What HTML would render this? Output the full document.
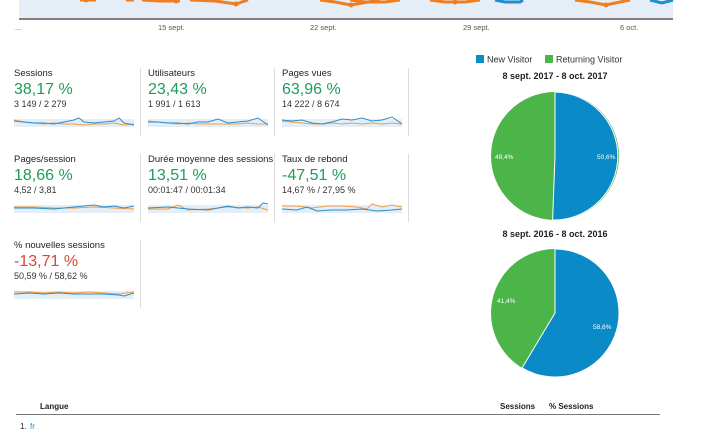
<!DOCTYPE html>
<html><head><meta charset="utf-8"><style>
html,body{margin:0;padding:0;background:#fff;width:702px;height:432px;overflow:hidden;font-family:"Liberation Sans",sans-serif;color:#222}
.a{position:absolute}
.t{font-size:9.5px;color:#222;line-height:12px;white-space:nowrap}
.v{font-size:16px;color:#1e9c5a;line-height:19px}
.r{color:#d9453b}
.s{font-size:9px;color:#333;line-height:11px}
.d{position:absolute;width:1px;background:#ddd}
</style></head><body>
<svg class="a" style="left:0;top:0" width="702" height="432">
<rect x="19" y="0" width="654" height="18" fill="#e5edf7"/>
<line x1="19" y1="19" x2="673" y2="19" stroke="#555" stroke-width="1.5"/>
<g stroke="#f07d20" stroke-width="3" fill="none">
<polyline points="80,0 96,0"/><polyline points="126,0 134,0"/><polyline points="142,0 160,1 180,1"/><polyline points="190,0 215,1 236,4 248,0"/>
<polyline points="320,0 335,2 351,5 368,2 380,0"/><polyline points="350,0 365,2 385,2 400,0"/><polyline points="430,0 445,2 465,2 480,0"/>
<polyline points="575,0 590,2 606,5 620,2 630,0"/>
</g>
<polyline points="495,0 505,2 520,2 523,0" stroke="#1b8fd0" stroke-width="3" fill="none"/>
<polyline points="650,0 662,3 673,0" stroke="#1b8fd0" stroke-width="3" fill="none"/>
<g fill="#f07d20"><circle cx="86" cy="0" r="2.5"/><circle cx="176" cy="1" r="2.5"/><circle cx="236" cy="4" r="2.5"/><circle cx="351" cy="5" r="2.5"/><circle cx="455" cy="2" r="2.5"/><circle cx="606" cy="5" r="2.5"/></g>
<g font-size="7.5" fill="#555" font-family="Liberation Sans"><text x="15" y="30">...</text><text x="158" y="30">15 sept.</text><text x="310" y="30">22 sept.</text><text x="463" y="30">29 sept.</text><text x="620" y="30">6 oct.</text></g>
<rect x="476" y="55" width="8" height="8" fill="#0a8ac7"/><text x="487" y="62.5" font-size="9" fill="#333">New Visitor</text>
<rect x="545" y="55" width="8" height="8" fill="#4cb54a"/><text x="556" y="62.5" font-size="9" fill="#333">Returning Visitor</text>
<text x="555" y="79" font-size="9" font-weight="bold" text-anchor="middle" fill="#222">8 sept. 2017 - 8 oct. 2017</text>
<circle cx="555" cy="156" r="64" fill="#4cb54a"/>
<path d="M555,156 L555,92 A64,64 0 1 1 552.6,220 Z" fill="#0a8ac7" stroke="#fff" stroke-width="1"/>
<text x="597" y="159" font-size="6.5" fill="#fff">50,6%</text><text x="495" y="159" font-size="6.5" fill="#fff">49,4%</text>
<text x="555" y="237" font-size="9" font-weight="bold" text-anchor="middle" fill="#222">8 sept. 2016 - 8 oct. 2016</text>
<circle cx="555" cy="313" r="64" fill="#4cb54a"/>
<path d="M555,313 L555,249 A64,64 0 1 1 522.1,367.9 Z" fill="#0a8ac7" stroke="#fff" stroke-width="1"/>
<text x="593" y="329" font-size="6.5" fill="#fff">58,6%</text><text x="497" y="303" font-size="6.5" fill="#fff">41,4%</text>
<text x="40" y="409" font-size="8" font-weight="bold" fill="#222">Langue</text>
<text x="500" y="409" font-size="8" font-weight="bold" fill="#222">Sessions</text>
<text x="549" y="409" font-size="8" font-weight="bold" fill="#222">% Sessions</text>
<line x1="16" y1="414.5" x2="660" y2="414.5" stroke="#777" stroke-width="1"/>
<text x="20" y="429" font-size="8" fill="#222">1.</text><text x="30" y="429" font-size="8" fill="#1a8ccd">fr</text>
</svg>
<div class="d" style="left:140px;top:68px;height:68px"></div>
<div class="d" style="left:274px;top:68px;height:68px"></div>
<div class="d" style="left:408px;top:68px;height:68px"></div>
<div class="d" style="left:140px;top:154px;height:68px"></div>
<div class="d" style="left:274px;top:154px;height:68px"></div>
<div class="d" style="left:408px;top:154px;height:68px"></div>
<div class="d" style="left:140px;top:240px;height:68px"></div>

<div class="a" style="left:14px;top:68px"><div class="t">Sessions</div><div class="v">38,17 %</div><div class="s">3 149 / 2 279</div></div>
<div class="a" style="left:148px;top:68px"><div class="t">Utilisateurs</div><div class="v">23,43 %</div><div class="s">1 991 / 1 613</div></div>
<div class="a" style="left:282px;top:68px"><div class="t">Pages vues</div><div class="v">63,96 %</div><div class="s">14 222 / 8 674</div></div>
<div class="a" style="left:14px;top:154px"><div class="t">Pages/session</div><div class="v">18,66 %</div><div class="s">4,52 / 3,81</div></div>
<div class="a" style="left:148px;top:154px"><div class="t">Durée moyenne des sessions</div><div class="v">13,51 %</div><div class="s">00:01:47 / 00:01:34</div></div>
<div class="a" style="left:282px;top:154px"><div class="t">Taux de rebond</div><div class="v">-47,51 %</div><div class="s">14,67 % / 27,95 %</div></div>
<div class="a" style="left:14px;top:240px"><div class="t">% nouvelles sessions</div><div class="v r">-13,71 %</div><div class="s">50,59 % / 58,62 %</div></div>

<svg class="a" style="left:0;top:0" width="420" height="310">
<defs><g id="sp"><rect x="0" y="3" width="120" height="8" fill="#e3eef8"/></g></defs>
<g transform="translate(14,116)"><use href="#sp"/>
<polyline fill="none" stroke="#f0a040" stroke-width="1" points="0,4 10,6 20,7 30,8 40,7 50,8 60,8 70,9 80,8 90,8 100,7 110,9 120,8"/>
<polyline fill="none" stroke="#2a8fcb" stroke-width="1" points="0,5 10,6 20,7 30,7 40,8 50,6 60,4 65,2 70,6 80,7 90,6 100,5 105,2 110,7 120,9"/></g>
<g transform="translate(148,116)"><use href="#sp"/>
<polyline fill="none" stroke="#f0a040" stroke-width="1" points="0,5 10,6 20,7 30,8 40,7 50,8 60,8 70,8 80,8 90,8 100,7 110,8 120,8"/>
<polyline fill="none" stroke="#2a8fcb" stroke-width="1" points="0,6 10,6 20,7 30,7 40,8 50,6 60,6 70,3 80,7 90,6 100,5 110,2 120,9"/></g>
<g transform="translate(282,116)"><use href="#sp"/>
<polyline fill="none" stroke="#f0a040" stroke-width="1" points="0,5 10,6 20,7 30,8 40,8 50,7 60,8 70,7 80,8 90,7 100,8 110,7 120,8"/>
<polyline fill="none" stroke="#2a8fcb" stroke-width="1" points="0,4 10,5 20,4 30,7 40,8 50,6 60,3 70,4 80,2 90,5 100,4 110,1 120,8"/></g>
<g transform="translate(14,202)"><use href="#sp"/>
<polyline fill="none" stroke="#f0a040" stroke-width="1" points="0,5 20,5 40,6 60,6 80,5 100,6 120,7"/>
<polyline fill="none" stroke="#2a8fcb" stroke-width="1" points="0,6 20,6 40,7 60,5 80,3 90,5 100,4 110,6 120,4"/></g>
<g transform="translate(148,202)"><use href="#sp"/>
<polyline fill="none" stroke="#f0a040" stroke-width="1" points="0,7 20,7 30,3 40,8 60,7 80,5 100,6 110,5 120,8"/>
<polyline fill="none" stroke="#2a8fcb" stroke-width="1" points="0,6 20,5 40,7 60,8 80,4 90,6 100,5 110,6 115,1 120,2"/></g>
<g transform="translate(282,202)"><use href="#sp"/>
<polyline fill="none" stroke="#f0a040" stroke-width="1" points="0,4 15,4 30,6 45,4 60,4 75,5 85,7 90,2 100,5 110,3 120,5"/>
<polyline fill="none" stroke="#2a8fcb" stroke-width="1" points="0,7 15,8 25,5 35,9 50,8 65,8 80,7 95,9 110,8 120,7"/></g>
<g transform="translate(14,288)"><use href="#sp"/>
<polyline fill="none" stroke="#f0a040" stroke-width="1" points="0,4 15,4 30,5 45,4 60,5 75,4 90,5 105,6 120,4"/>
<polyline fill="none" stroke="#2a8fcb" stroke-width="1" points="0,6 15,5 30,6 45,5 60,6 75,6 90,6 105,7 110,8 120,5"/></g>
</svg>
</body></html>
